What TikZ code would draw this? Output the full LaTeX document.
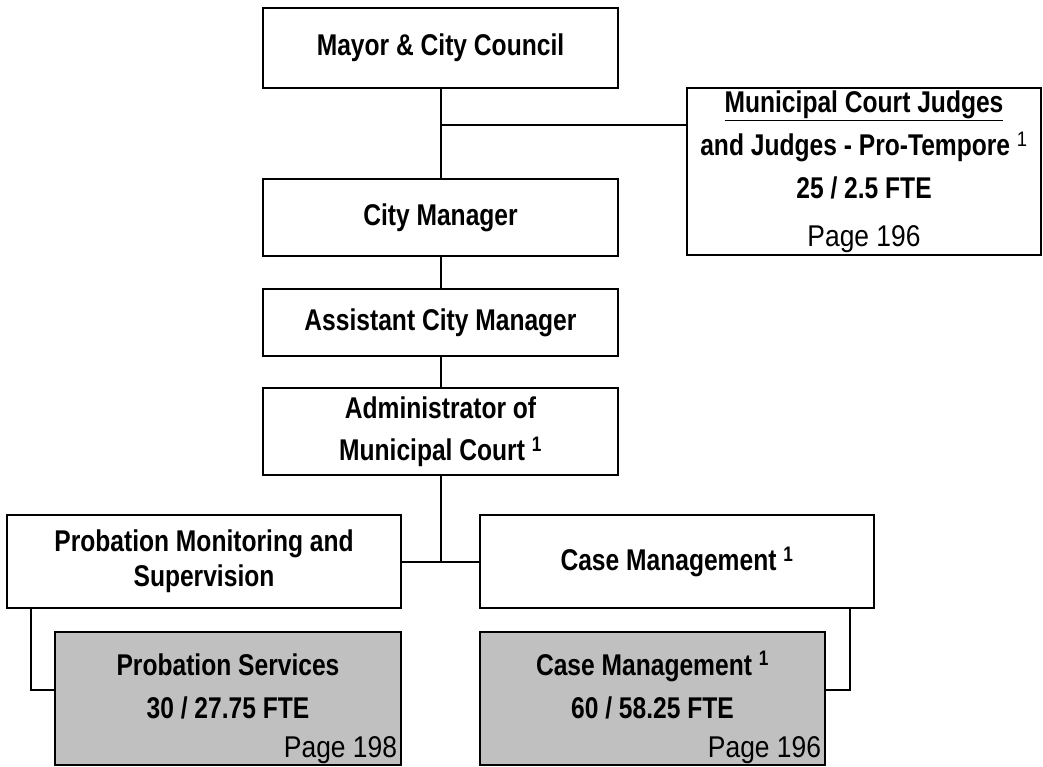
\documentclass[tikz,border=0pt]{standalone}
\usepackage{fontspec}
\setmainfont{Liberation Sans}[UprightFeatures={FakeStretch=0.88},BoldFeatures={FakeStretch=0.82}]
\usepackage{tikz}
\usetikzlibrary{positioning}
\definecolor{boxgrey}{RGB}{192,192,192}

\begin{document}
\begin{tikzpicture}[x=1pt, y=-1pt,
  box/.style={draw, line width=2pt, align=center, inner sep=2pt,
    font=\fontsize{30}{35}\selectfont\bfseries},
  widebox/.style={box, font=\fontsize{30}{43}\selectfont\bfseries},
  greybox/.style={widebox, fill=boxgrey},
  link/.style={line width=2pt}
]
\useasboundingbox (0,0) rectangle (1043,766);

% top of the chart
\node[box, minimum width=355pt, minimum height=80pt] (mayor) at (440.5,48) {Mayor \& City Council};
\node[widebox, minimum width=354pt, minimum height=167pt] (judges) at (864,171.5) {
\underline{Municipal Court Judges}\\
and Judges - Pro-Tempore \textsuperscript{\mdseries 1}\\
25 / 2.5 FTE\\[5pt]
{\mdseries Page 196}};
\node[box, minimum width=355pt, minimum height=77pt] (citymgr) at (440.5,217.5) {City Manager};
\node[box, minimum width=355pt, minimum height=67pt] (asstmgr) at (440.5,322.5) {Assistant City Manager};
\node[box, minimum width=355pt, minimum height=87pt, font=\fontsize{30}{42}\selectfont\bfseries] (admin) at (440.5,431.5) {Administrator of\\Municipal Court \textsuperscript{1}};

% divisions
\node[box, minimum width=394pt, minimum height=93pt] (probmon) at (204,561.5) {Probation Monitoring and\\Supervision};
\node[box, minimum width=394pt, minimum height=93pt] (casemgmt) at (677,561.5) {Case Management \textsuperscript{1}};
\node[greybox, minimum width=346pt, minimum height=133pt] (probserv) at (228,698.5) {
\rule{0pt}{35pt}Probation Services\\
30 / 27.75 FTE\\[-4pt]
\smash{\makebox[338pt][r]{\mdseries Page 198}}};
\node[greybox, minimum width=345pt, minimum height=133pt] (casesrv) at (652.5,698.5) {
\rule{0pt}{35pt}Case Management \textsuperscript{1}\\
60 / 58.25 FTE\\[-4pt]
\smash{\makebox[337pt][r]{\mdseries Page 196}}};

% connectors
\coordinate (jct) at (mayor.south |- 0,125);
\draw[link] (mayor) -- (citymgr);
\draw[link] (jct) -- (jct -| judges.west);
\draw[link] (citymgr) -- (asstmgr);
\draw[link] (asstmgr) -- (admin);
\draw[link] (admin) -- (admin.south |- probmon.east);
\draw[link] (probmon) -- (casemgmt);
\draw[link] ([xshift=25pt]probmon.south west) |- ([yshift=8.5pt]probserv.west);
\draw[link] ([xshift=-25pt]casemgmt.south east) |- ([yshift=8.5pt]casesrv.east);
\end{tikzpicture}
\end{document}
